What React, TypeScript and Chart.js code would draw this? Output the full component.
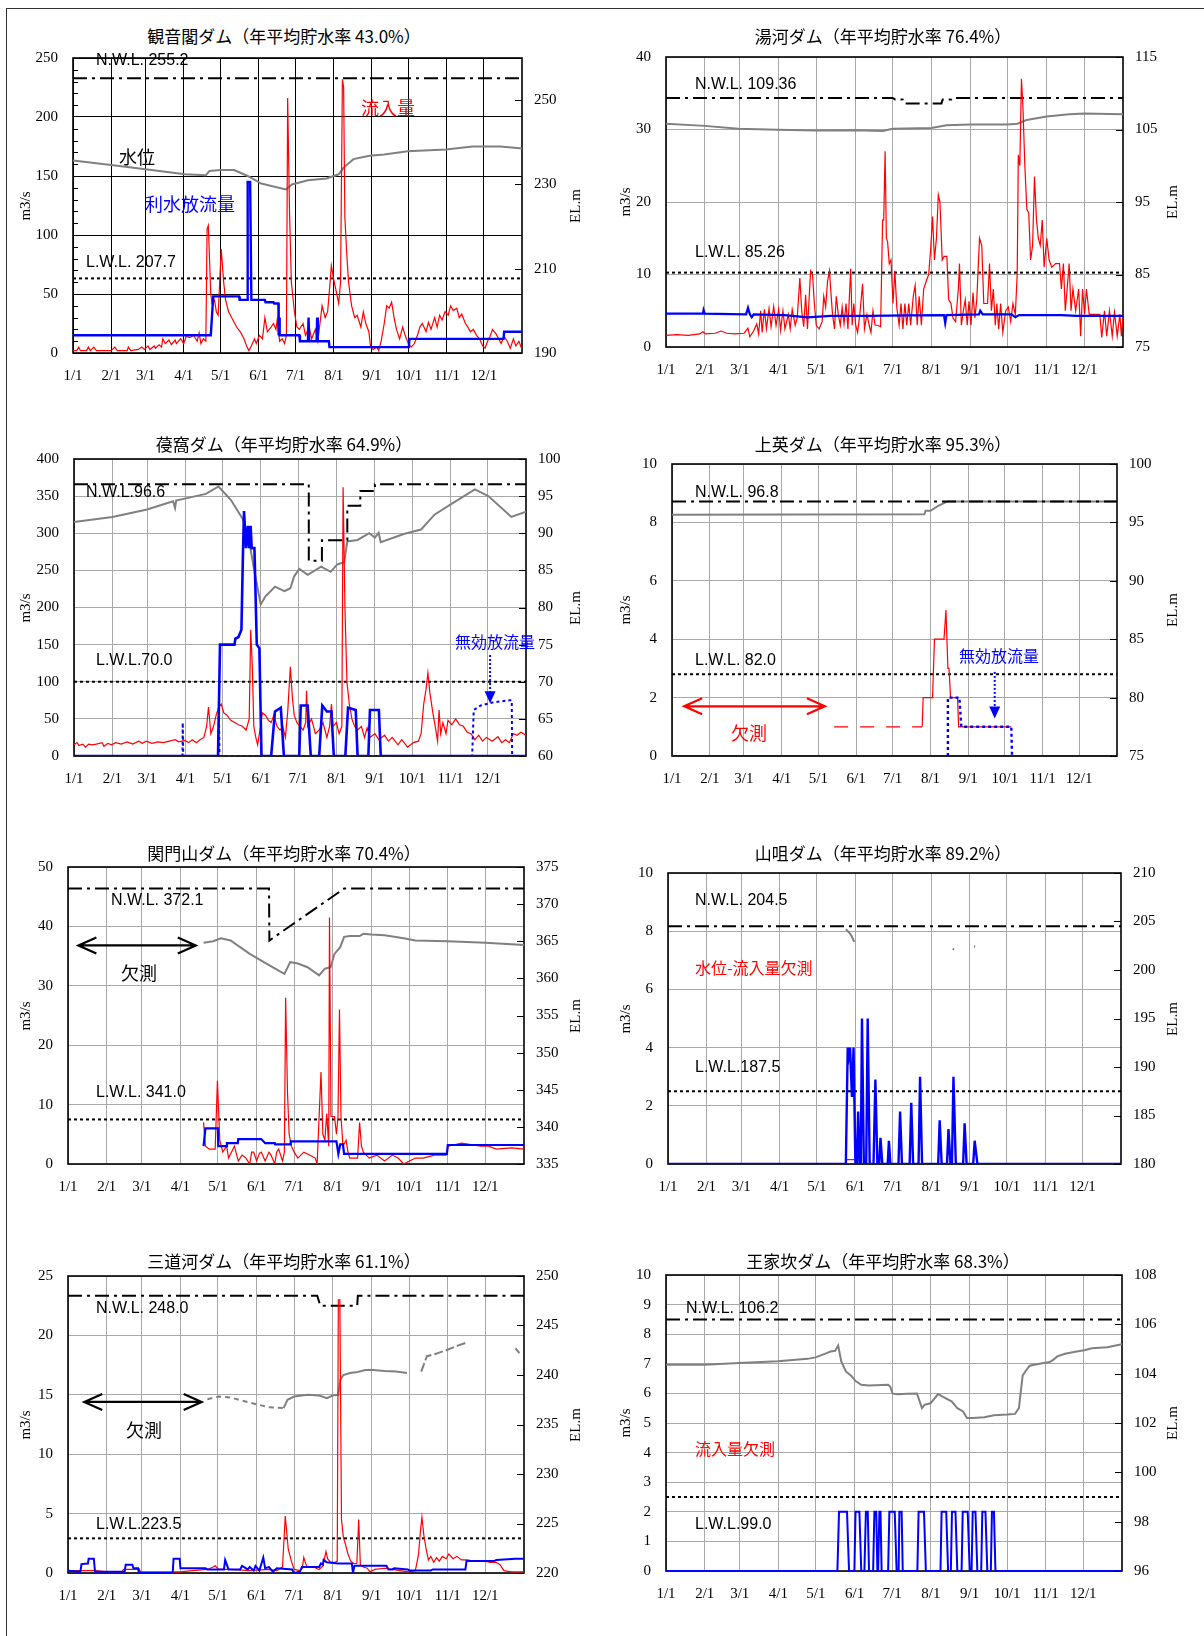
import React, { useEffect, useRef } from 'react';
import { Chart, registerables } from 'chart.js';

Chart.register(...registerables);

type Pt = [number, number | null];

const MONTH_DAYS = [0, 31, 59, 90, 120, 151, 181, 212, 243, 273, 304, 334];
const MONTH_LABELS = ['1/1', '2/1', '3/1', '4/1', '5/1', '6/1', '7/1', '8/1', '9/1', '10/1', '11/1', '12/1'];

// ---------- 観音閣ダム ----------
const kannonInflow: Pt[] = [[0,2],[3,2],[4.7,5],[6,2],[11,2],[12.5,5],[14,2],[17,5],[19,2],[31,2],[34,5],[36,2],[44,2],[45,5],[47,2],[53,3],[56,5],[58,3],[61,6],[62.5,3],[66,6],[67,4],[70,7],[72,5],[73,12],[75,8],[78,11],[80,7],[83,11],[84,8],[87.5,12],[90,8],[92,14],[95,13],[98,15],[101,10],[102.5,17],[104,8],[106,12],[108,10],[109,105],[110,108],[112,50],[113,42],[115,45],[116.5,35],[118,32],[119,55],[120.5,88],[122.5,60],[124,45],[126.5,35],[130,28],[133,22],[136,18],[139,12],[141.5,5],[143,2],[145,6],[147.5,12],[149,8],[151.5,15],[154,12],[156,30],[158,18],[161,22],[163,25],[165,20],[166,28],[168,10],[170,12],[172,8],[173.5,15],[174.5,216],[176,120],[177.5,60],[180,35],[182,22],[184,20],[187,25],[189,15],[192,22],[194,12],[197,20],[199,10],[202.5,40],[205,30],[207,35],[209,60],[210,74],[212,62],[214,52],[216,42],[217.5,60],[219,232],[220,225],[221,115],[222.5,85],[224,60],[226.5,40],[229,30],[231,32],[234,22],[236,35],[238,25],[240.5,18],[242,5],[244,3],[247,5],[248.5,2],[250.5,10],[253,25],[255,40],[257,38],[259,43],[261,30],[263,20],[265.5,12],[268,22],[270,15],[272.5,8],[275,5],[277.5,8],[280,15],[282,22],[284,25],[287,18],[289,26],[291,20],[294,30],[296,22],[298,32],[300,28],[302.5,35],[305,32],[307,40],[309,36],[312,38],[314,30],[316,33],[319,25],[321,22],[323,18],[325.5,20],[328,15],[330.5,12],[333,6],[335,4],[337,10],[339,14],[341,20],[344,16],[346,12],[348,8],[350.5,14],[353,10],[355.5,4],[358,12],[360,6],[362.5,10],[365,3]];
const kannonRelease: Pt[] = [[0,15],[112,15],[114,48],[135,48],[135.5,45],[141.5,45],[142,145],[144,145],[145,45],[156,45],[156.5,43],[163,43],[163.5,42],[167,42],[167.2,15],[167.5,30],[168,15],[184,15],[184.5,10],[191,10],[191.5,30],[192,10],[198,10],[198.5,30],[199,10],[208,10],[208.5,5],[273,5],[273.5,12],[350,12],[350.5,18],[365,18]];
const kannonLevel: Pt[] = [[0,235.7],[31,234.6],[59,233.6],[91,232.4],[108,232.2],[111,233.2],[120,233.4],[131,233.4],[142,232.0],[153,230.2],[173,228.8],[178,230.0],[191,231.0],[206,231.4],[216,232.4],[220,234.0],[228,236.0],[241,236.8],[253,237.1],[272,237.9],[303,238.3],[325,239.0],[347,239.0],[359,238.7],[365,238.5]];
const kannonNWL: Pt[] = [[0,255.2],[365,255.2]];
const kannonLWL: Pt[] = [[0,207.7],[365,207.7]];

// ---------- 湯河ダム ----------
const yuheInflow: Pt[] = [[0,1.6],[8.6,1.7],[17.8,1.6],[27,1.8],[29.5,2.1],[31.6,1.8],[39.3,1.9],[44,2.2],[48.5,1.9],[54.7,1.8],[62.4,1.9],[65.4,2.6],[67,1.4],[70,2.2],[72.5,3.2],[74,1.8],[75.6,5.0],[76.8,2.0],[78.6,5.2],[80.2,2.5],[82.3,5.3],[83.9,2.8],[86,5.6],[87.9,3.0],[90,5.2],[91.5,2.3],[93.4,5.0],[95,2.5],[97.7,4.5],[99.2,2.5],[100.8,5.2],[103.2,3.0],[104.8,4.0],[106.9,9.5],[108.4,5.0],[110,2.8],[111.5,7.2],[113,2.5],[115.5,10.5],[117,10.0],[118.5,6.0],[120,3.0],[122.3,2.5],[124.7,3.5],[126,7.0],[127.5,5.5],[129,9.0],[130.6,10.5],[131.5,8.0],[133,4.5],[134.6,2.5],[136,7.0],[137.6,4.5],[139.2,3.0],[140.7,5.5],[142.2,3.2],[143.8,6.0],[145.3,2.5],[147.5,10.8],[148.7,3.0],[150,6.0],[151.5,3.0],[153,2.0],[154.8,4.5],[157,8.7],[158.5,2.5],[160.5,4.5],[162.3,3.0],[163.7,2.0],[165.3,5.0],[167,3.0],[169,3.0],[171.4,2.8],[173,17.5],[173.9,17.5],[175,27],[176,15.0],[177,14.5],[178.3,11.5],[179.7,12.0],[181.3,6.0],[182.8,10.5],[184.3,5.5],[186.2,3.0],[187.7,6.0],[189.2,2.5],[190.8,6.0],[192.3,3.0],[193.9,6.0],[195.4,3.0],[197.5,7.0],[199,8.5],[200.6,3.0],[202.2,7.0],[204,3.0],[205.8,8.0],[207.7,9.0],[209.8,10.0],[211.4,13.5],[212.9,18.0],[214.4,12.0],[216,15.0],[217.5,21.0],[218.8,20.0],[220.6,12.0],[222.1,12.5],[224.3,12.5],[225.8,6.5],[227.6,6.0],[229.2,4.0],[231.3,3.5],[233.5,8.0],[234.4,11.5],[235.9,3.0],[237.5,5.0],[239,6.5],[240.6,3.0],[242,6.3],[243.6,3.0],[245.2,7.5],[246.7,4.0],[248.2,6.5],[250.4,15.0],[252.2,14.0],[253.8,6.0],[256.8,6.0],[258.4,11.5],[259.9,5.0],[261.4,8.0],[263,3.0],[264.2,6.0],[265.7,2.5],[267.3,6.0],[269,2.0],[271.3,5.0],[273.4,5.5],[275.3,3.5],[277.1,6.0],[279,4.5],[280.5,10.0],[281.4,26.5],[282.6,25.0],[283.9,37.0],[285.1,33.0],[286.6,25.0],[288.2,19.0],[289.7,18.5],[291.2,12.0],[292.8,14.0],[294.3,23.5],[295.9,17.5],[297.4,15.0],[298.9,14.0],[300.5,17.5],[302,11.0],[304.1,15.0],[306,12.0],[308.1,11.0],[311.2,11.5],[314.3,11.5],[315.8,8.0],[317.4,11.5],[318.9,5.0],[320.4,8.0],[322,11.5],[323.5,5.0],[325,8.0],[327.2,5.0],[329.6,8.0],[331.2,1.5],[332.7,8.0],[334.3,4.5],[335.8,8.0],[338,4.5],[346.5,4.5],[348,1.3],[350.2,5.0],[352,1.5],[354.2,5.0],[356.4,1.5],[358.2,4.8],[360.4,1.5],[362.5,4.5],[363.7,1.5],[365,4.5]];
const yuheRelease: Pt[] = [[0,4.6],[29.5,4.6],[30,5.1],[31,4.6],[64,4.5],[65.5,5.4],[67,4.5],[68.5,4.1],[70,4.5],[94.5,4.4],[113,4.1],[131.5,4.3],[162,4.3],[193,4.35],[222,4.4],[223,3.3],[224,4.4],[250,4.5],[251,5.0],[253,4.5],[276,4.5],[279,4.1],[282,4.4],[316,4.4],[328,4.3],[365,4.3]];
const yuheLevel: Pt[] = [[0,105.8],[31,105.5],[58,105.1],[89,104.95],[120,104.86],[151,104.9],[173,104.8],[181,105.1],[212,105.2],[224,105.6],[243,105.7],[273,105.7],[280.5,105.8],[288,106.3],[304,106.8],[322,107.1],[334,107.2],[365,107.1]];
const yuheNWL: Pt[] = [[0,109.36],[181,109.36],[183,109.15],[189,109.15],[190,108.6],[220,108.6],[221,109.15],[228,109.15],[229,109.36],[365,109.36]];
const yuheLWL: Pt[] = [[0,85.26],[365,85.26]];

// ---------- 葠窩ダム ----------
const shenwoInflow: Pt[] = [[0,15],[2.5,18],[4,14],[7,16],[9.3,12],[11.8,16],[14.9,15],[18,16],[22.7,18],[24.2,13],[27.3,17],[30.4,15],[33.5,18],[38.2,16],[42.8,19],[47.5,16],[52.1,20],[55.2,17],[58.3,20],[63,17],[67.7,19],[72.3,18],[77,20],[81.6,22],[84.7,19],[89.4,21],[92.5,18],[95.6,22],[98.7,18],[101.8,22],[104.9,25],[107.1,40],[108.6,66],[110.5,30],[112.7,40],[114.8,55],[116.7,65],[118.9,70],[121,58],[123.5,55],[126.6,48],[129.7,45],[132.8,42],[135.9,40],[139,35],[141.5,50],[142.7,170],[144,120],[145.2,40],[146.8,25],[148.3,15],[150.2,35],[152.1,58],[154.6,55],[157,48],[159.2,45],[161.4,55],[163.9,40],[166.4,35],[168.6,40],[170.7,25],[172.6,60],[174.7,120],[176.3,80],[177.8,55],[180,45],[182.5,40],[185,35],[187.1,45],[187.8,88],[188.7,40],[191.8,50],[194.9,30],[198,35],[201.1,45],[204.2,25],[206.4,40],[207.9,70],[209.2,40],[211.9,45],[214.1,30],[216.3,40],[217.3,362],[218.8,200],[220.4,100],[222.3,70],[224.4,50],[226.6,40],[229,35],[232.1,40],[234.6,25],[236.7,38],[238.9,25],[243,30],[246.1,22],[250.8,28],[253.9,20],[257,25],[261.6,15],[264.7,22],[269.4,12],[274.1,18],[278.1,20],[280.3,30],[282.4,70],[284.3,90],[285.8,112],[287.4,85],[289.6,60],[291.7,40],[293.6,20],[294.8,62],[296.1,30],[297.9,45],[300.4,30],[302,48],[305.1,42],[308.2,50],[311.3,42],[314.4,40],[317.5,32],[320.6,30],[323.7,22],[326.8,28],[329.9,20],[333,25],[337.7,20],[342.3,26],[345.4,18],[348.5,22],[351.6,18],[354.7,30],[357.8,28],[360.9,32],[365,28]];
const shenwoRelease: Pt[] = [[0,0],[116.3,0],[117.9,150],[129.6,150],[130.3,158],[132.7,160],[135.2,170],[136.4,270],[137.3,330],[138.9,280],[140.4,310],[141.4,280],[142.6,310],[143.5,280],[145.7,280],[147.6,150],[149.7,145],[151.4,0],[159.2,0],[162.3,60],[167,65],[169.5,0],[181.9,0],[183.1,68],[188.7,68],[191.2,0],[198,0],[200.5,68],[204.2,60],[207.9,60],[209.8,0],[219.1,0],[221.3,65],[227.5,62],[229,0],[237.7,0],[239,62],[246.2,62],[247.7,0],[365,0]];
const shenwoInvalid: Pt[] = [[0,0],[87.6,0],[87.8,45],[88.2,0],[116.5,0],[117,65],[117.5,0],[321.5,0],[322.8,62],[328.4,68],[337.7,72],[351.6,75],[353.5,75],[353.8,0],[365,0]];
const shenwoLevel: Pt[] = [[0,91.5],[31,92.2],[59,93.2],[80,94.3],[81.6,93.4],[82.5,94.4],[90.3,94.7],[106.5,95.3],[116.7,96.3],[126.6,94.5],[136,92.0],[140.6,89.8],[145.2,85.3],[150.8,80.4],[154.6,81.5],[162.3,82.8],[170,82.2],[174.7,82.6],[177.8,84.2],[181.9,85.2],[188.7,84.4],[199.6,85.5],[207.3,84.8],[212.6,85.8],[218.2,86.1],[220.7,88.9],[229,89.1],[238.4,90.0],[243,89.4],[246,90.05],[247.7,88.8],[266.3,89.9],[280.3,90.5],[291.1,92.5],[304.2,93.9],[323.7,95.9],[334.6,95.0],[353.2,92.2],[365,92.9]];
const shenwoNWL: Pt[] = [[0,96.6],[189.6,96.6],[189.6,86.3],[200.2,86.3],[200.2,89.05],[220.7,89.05],[220.7,93.7],[231.2,93.7],[231.2,95.7],[243,95.7],[243,96.6],[365,96.6]];
const shenwoLWL: Pt[] = [[0,70.0],[365,70.0]];

// ---------- 上英ダム ----------
const shangyingLevel: Pt[] = [[0,95.65],[207,95.7],[208,96.0],[212,96.0],[218,96.4],[226,96.8],[365,96.8]];
const shangyingInflowPartial: Pt[] = [[133,1],[205,1]];
const shangyingInflow: Pt[] = [[205.2,1],[206,2],[213.7,2],[215.3,4],[223.1,4],[224.7,5],[226.3,3],[227.2,3],[228.5,2],[234.2,2],[235.1,1],[278.3,1]];
const shangyingRelease: Pt[] = [[0,0],[365,0]];
const shangyingInvalid: Pt[] = [[226.3,0],[226.3,2],[235.7,2],[237.3,1],[278.3,1],[278.9,0]];
const shangyingNWL: Pt[] = [[0,96.8],[365,96.8]];
const shangyingLWL: Pt[] = [[0,82.0],[365,82.0]];

// ---------- 関門山ダム ----------
const guanmenInflow: Pt[] = [[108.5,7],[110,3],[113.1,2.5],[117.8,2.5],[119.6,14],[121.5,4],[123.9,2],[127,3],[128.5,1],[133.2,3],[136.3,0.5],[139.3,1.5],[142.4,1],[145.5,0],[147,2],[148.6,2],[151,0.5],[153.2,1.8],[154.7,2],[157.8,0.5],[160.9,2],[162.5,1.5],[165.5,0],[167,2],[168.6,2.5],[171.7,0.5],[173.2,2],[174.2,28],[175.7,12],[177,5],[178.8,3],[181,2],[184,1],[188.7,2],[193.3,1.5],[197.9,1],[199.4,0],[202.5,15.5],[204,5],[205.6,4],[207.1,8.5],[208.7,3],[209.3,41.5],[210.5,8],[213.3,8],[214.9,5],[216.1,8],[217.3,26],[218.5,8],[220.1,3],[222.6,4],[224.1,2],[225.6,1],[231.8,1],[233.4,7],[234.9,3],[236.4,2],[241.1,1],[247.2,1.5],[253.4,0.5],[259.6,1.5],[264.2,1],[268.8,0],[273.4,0.5],[278,1],[284.2,1],[293.5,1.5],[302.7,1.5],[304.3,3],[315,3.5],[330.5,3],[336.6,3],[342.8,2.5],[355.1,2.7],[365,2.5]];
const guanmenRelease: Pt[] = [[108.5,3],[110,6],[120,6],[120.3,3],[126.8,3],[127.2,3.5],[135.9,3.5],[136.3,4.2],[154.7,4.2],[157.8,3.5],[165.5,3.5],[165.8,3.3],[177.9,3.3],[178.3,3.8],[214.9,3.8],[216.4,1.7],[217.9,3.3],[220.1,3.3],[221,1.7],[303.3,1.7],[304,3.2],[365,3.2]];
const guanmenLevel: Pt[] = [[108.5,364.8],[116.2,365.0],[122.4,365.4],[130.1,365.1],[145.5,363.3],[160.9,361.8],[173.2,360.6],[177.9,362.2],[184,362.0],[191.7,361.5],[201,360.4],[205.6,361.3],[210.2,361.5],[213.3,363.3],[217.9,364.2],[221,365.6],[225.6,365.7],[233.4,365.7],[236.4,366.0],[242.6,365.9],[253.4,365.8],[268.8,365.4],[278,365.1],[303.6,365.0],[334.2,364.8],[365,364.5]];
const guanmenNWL: Pt[] = [[0,372.1],[160.9,372.1],[161.2,365.1],[221,372.1],[365,372.1]];
const guanmenLWL: Pt[] = [[0,341.0],[365,341.0]];

// ---------- 山咀ダム ----------
const shanzuiRelease: Pt[] = [[0,0],[143.3,0],[144.8,4],[145.7,3.7],[146.7,4],[148.2,2.3],[149.5,4],[151,0],[152.2,0],[153.2,1.8],[154.4,0],[155.3,0],[156.3,5],[157.8,0],[159.7,0],[160.9,5],[162.5,0],[165.6,0],[167.1,2.9],[168.7,0],[170.2,0],[171.2,0.9],[172.7,0],[177,0],[178,0.8],[179.2,0],[185.7,0],[187,1.8],[188.5,0],[194.7,0],[196,2.1],[197.5,0],[201.9,0],[203.1,3],[204.7,0],[217.7,0],[218.9,1.5],[220.5,0],[224.8,0],[226,1.2],[227.6,0],[228.8,0],[230,3],[231.9,0],[237.8,0],[239,1.4],[240.6,0],[245.9,0],[247.1,0.8],[249.3,0],[365,0]];
const shanzuiInflow: Pt[] = [[143.3,0.15],[150.1,0.15]];
const shanzuiLevel: Pt[] = [[143.3,204.2],[146.4,203.8],[147.9,203.5],[150.1,202.9],[150.2,null],[229.5,202.2],[230.5,202.1],[231,null],[246.5,202.45],[247.5,202.4]];
const shanzuiNWL: Pt[] = [[0,204.5],[365,204.5]];
const shanzuiLWL: Pt[] = [[0,187.5],[365,187.5]];

// ---------- 三道河ダム ----------
const sandaoInflow: Pt[] = [[0,0.2],[22.2,0.2],[31.4,0.1],[43.2,0.1],[44.4,0.3],[56.1,0.3],[58.6,0.1],[90,0.1],[99.3,0.2],[111.6,0.3],[116.2,0.5],[117.8,0.6],[120.8,0.3],[130.1,0.3],[145.5,0.2],[160.9,0.3],[167.1,0.2],[171.7,0.5],[173.9,4.8],[176.3,2.0],[178.8,1.0],[181,0.3],[185.6,0.2],[187.5,0.4],[188.7,1.3],[190.2,0.8],[191.7,0.5],[196.4,0.5],[201,0.3],[204,0.6],[206.5,1.8],[207.8,1.2],[210.2,0.9],[213.9,0.9],[215.5,1.0],[216.4,23],[217.6,23],[218.9,4.5],[220.4,3.0],[221.9,2.5],[224.1,1.6],[226.3,1.0],[228.7,0.8],[231.2,0.8],[232.7,4.5],[234,0.7],[236.4,0.5],[239.5,0.4],[241.7,0.1],[245.7,0.3],[253.4,0.4],[259.6,0.3],[265.7,0.2],[272.5,0.1],[278,0.2],[280.5,1.5],[282.1,3.5],[283.3,4.7],[284.8,3.2],[286.7,2.0],[288.5,1.1],[290.4,1.4],[292.8,0.9],[295,1.3],[297.2,1.0],[299.6,1.4],[302.7,1.2],[304.8,1.6],[308.3,1.2],[311.3,1.4],[315,1.1],[319.7,1.1],[324.3,1.0],[333.5,1.0],[338.2,0.9],[342.8,0.9],[345.8,0.7],[348.9,0.2],[355.1,0.1],[365,0.1]];
const sandaoRelease: Pt[] = [[0,0.2],[9.9,0.1],[10.8,0.75],[16,0.8],[16.5,1.2],[20.7,1.2],[21.6,0.1],[45.3,0.1],[46.2,0.7],[51.5,0.7],[52.4,0.4],[56.1,0.4],[56.7,0],[83.8,0],[84.5,1.2],[89.4,1.2],[90,0.4],[110,0.4],[111.6,0.3],[124.8,0.3],[125.8,1.1],[128.5,0.3],[137.8,0.3],[139.3,0.6],[143.9,0.3],[145.5,0.5],[148.6,0.2],[150.1,0.6],[153.2,0.2],[156.3,1.3],[157.8,0.4],[160.9,0.5],[164,0.1],[167.1,0.4],[179.4,0.3],[181,0],[185.6,0.1],[187.2,0.5],[201,0.5],[202.5,0.8],[204,0.7],[204.6,1.1],[207.1,0.9],[216.4,0.8],[227.2,0.8],[228.1,0],[229.3,0.6],[254.9,0.6],[256.5,0.3],[259.6,0.3],[261.1,0.4],[271.9,0.3],[273.4,0.2],[290.4,0.2],[291.9,0.3],[318.1,0.3],[319,1.0],[341.2,1.0],[342.8,1.1],[358.2,1.2],[365,1.2]];
const sandaoLevelA: Pt[] = [[111.6,237.56],[120.8,237.83],[130.1,237.73],[145.5,237.2],[160.9,236.75],[172.6,236.65]];
const sandaoLevelB: Pt[] = [[172.6,236.65],[175.7,237.5],[181,237.83],[191.7,238.0],[201,237.93],[207.2,237.66],[211.8,237.93],[216.4,238.0],[217.9,239.5],[220.4,240.0],[225.6,240.2],[231.8,240.3],[238,240.5],[244.1,240.5],[253.4,240.4],[262.6,240.35],[271.3,240.2]];
const sandaoLevelC: Pt[] = [[282.7,240.35],[287.3,241.9],[293.5,242.1],[302.7,242.5],[312,242.97],[319.7,243.3],[320,null],[358.2,242.7],[361.3,242.2]];
const sandaoNWL: Pt[] = [[0,248],[199.5,248],[202,247],[231.5,247],[232,248],[365,248]];
const sandaoLWL: Pt[] = [[0,223.5],[365,223.5]];

// ---------- 王家坎ダム ----------
const wangRelease: Pt[] = [[0,0],[137.2,0],[138.5,2],[144.9,2],[146.5,0],[150.8,0],[151.7,2],[154.8,2],[156.3,0],[158.8,0],[160,2],[161.5,2],[162.5,0],[165.8,0],[166.8,2],[168.3,2],[169.2,0],[169.8,0],[170.8,2],[171.7,2],[172.6,0],[177.8,0],[178.8,2],[183.1,2],[184.6,0],[186.2,0],[186.8,2],[188.6,2],[189.5,0],[201.2,0],[202.2,2],[206.5,2],[208,0],[219.7,0],[220.6,2],[224.3,2],[225.8,0],[228,0],[228.9,2],[231.7,2],[233.2,0],[236.6,0],[237.5,2],[241.5,2],[243.1,0],[244.6,0],[245.5,2],[247.7,2],[249.2,0],[252.3,0],[253.2,2],[255.7,2],[257.2,0],[260,0],[260.9,2],[262.5,2],[263.7,0],[365,0]];
const wangLevel: Pt[] = [[0,104.36],[30.8,104.36],[58.5,104.43],[89.5,104.5],[113.2,104.6],[119.7,104.66],[128.6,104.83],[131.7,104.9],[135.4,104.93],[137.8,105.14],[140.3,104.5],[144,104.09],[148.6,103.9],[151.7,103.7],[156.3,103.55],[162.5,103.52],[177.8,103.55],[179.4,103.48],[181.5,103.19],[185.5,103.17],[193.2,103.19],[200.9,103.2],[204.9,102.6],[207.1,102.74],[211.7,102.8],[217.8,103.17],[224,103.0],[228.6,102.88],[233.2,102.6],[237.8,102.47],[240.9,102.2],[245.5,102.2],[254.8,102.23],[262.5,102.31],[273.2,102.34],[279.4,102.37],[282.5,102.61],[285.5,103.93],[288.6,104.16],[291.1,104.32],[297.8,104.39],[307.1,104.47],[310.2,104.57],[313.2,104.7],[319.4,104.81],[328.6,104.9],[334.8,104.95],[340.9,105.03],[353.2,105.07],[365,105.19]];
const wangNWL: Pt[] = [[0,106.2],[365,106.2]];
const wangLWL: Pt[] = [[0,99.0],[365,99.0]];

// ---------- axis tick labels ----------
const kannonLeftTicks = [0, 50, 100, 150, 200, 250];
const kannonLeftMinor = [10, 20, 30, 40, 60, 70, 80, 90, 110, 120, 130, 140, 160, 170, 180, 190, 210, 220, 230, 240];
const kannonRightTicks = [190, 210, 230, 250];
const yuheLeftTicks = [0, 10, 20, 30, 40];
const yuheRightTicks = [75, 85, 95, 105, 115];
const shenwoLeftTicks = [0, 50, 100, 150, 200, 250, 300, 350, 400];
const shenwoRightTicks = [60, 65, 70, 75, 80, 85, 90, 95, 100];
const shangyingLeftTicks = [0, 2, 4, 6, 8, 10];
const shangyingRightTicks = [75, 80, 85, 90, 95, 100];
const guanmenLeftTicks = [0, 10, 20, 30, 40, 50];
const guanmenRightTicks = [335, 340, 345, 350, 355, 360, 365, 370, 375];
const shanzuiLeftTicks = [0, 2, 4, 6, 8, 10];
const shanzuiRightTicks = [180, 185, 190, 195, 200, 205, 210];
const sandaoLeftTicks = [0, 5, 10, 15, 20, 25];
const sandaoRightTicks = [220, 225, 230, 235, 240, 245, 250];
const wangLeftTicks = [0, 1, 2, 3, 4, 5, 6, 7, 8, 9, 10];
const wangRightTicks = [96, 98, 100, 102, 104, 106, 108];

// ---------- styles ----------
const RED = '#ff0000';
const BLUE = '#0000ff';
const GRAY = '#808080';
const BLACK = '#000000';
const GRID_GRAY = '#a8a8a8';
const NWL_DASH = [14, 5, 3, 5];
const LWL_DASH = [3, 3];
const FONT_SERIF = '"Liberation Serif", "Times New Roman", serif';
const FONT_SANS = '"Liberation Sans", Arial, sans-serif';
const FONT_JP = '"Noto Sans CJK JP", "Noto Sans CJK SC", sans-serif';

type Series = { data: Pt[]; axis: 'y' | 'y1'; color: string; width: number; dash?: number[] };
type Arrow = { kind: 'double' | 'down'; x: number; x2?: number; y: number; y2?: number; color: string };
type Note = { text: string; x: number; y: number; size: number; color: string; family: string };
type AxisSpec = { min: number; max: number; ticks: number[]; minor?: number[] };
type PanelSpec = {
  title: string;
  titleX: number;
  titleY: number;
  rect: [number, number, number, number];
  left: AxisSpec;
  right: AxisSpec;
  grid: string;
  series: Series[];
  arrows: Arrow[];
  notes: Note[];
};

const nwl = (d: Pt[]): Series => ({ data: d, axis: 'y1', color: BLACK, width: 2, dash: NWL_DASH });
const lwl = (d: Pt[]): Series => ({ data: d, axis: 'y1', color: BLACK, width: 2, dash: LWL_DASH });
const lvl = (d: Pt[], dash?: number[]): Series => ({ data: d, axis: 'y1', color: GRAY, width: 2, dash });
const inflow = (d: Pt[], dash?: number[]): Series => ({ data: d, axis: 'y', color: RED, width: 1.2, dash });
const release = (d: Pt[], dash?: number[], w = 2.2): Series => ({ data: d, axis: 'y', color: BLUE, width: w, dash });
const txt = (text: string, x: number, y: number, size = 16, color = BLACK, family = FONT_SANS): Note => ({ text, x, y, size, color, family });

const PANELS: PanelSpec[] = [
  {
    title: '観音閣ダム（年平均貯水率 43.0%）', titleX: 284, titleY: 35,
    rect: [73, 58, 522, 353],
    left: { min: 0, max: 250, ticks: kannonLeftTicks, minor: kannonLeftMinor },
    right: { min: 190, max: 260, ticks: kannonRightTicks },
    grid: BLACK,
    series: [release(kannonRelease, undefined, 2.4), inflow(kannonInflow), nwl(kannonNWL), lwl(kannonLWL), lvl(kannonLevel)],
    arrows: [],
    notes: [
      txt('N.W.L. 255.2', 96, 60), txt('L.W.L. 207.7', 86, 262),
      txt('水位', 119, 156, 18, BLACK, FONT_JP), txt('利水放流量', 145, 203, 18, BLUE, FONT_JP), txt('流入量', 361, 107, 18, RED, FONT_JP),
    ],
  },
  {
    title: '湯河ダム（年平均貯水率 76.4%）', titleX: 883, titleY: 35,
    rect: [666, 57, 1123, 347],
    left: { min: 0, max: 40, ticks: yuheLeftTicks },
    right: { min: 75, max: 115, ticks: yuheRightTicks },
    grid: GRID_GRAY,
    series: [release(yuheRelease), inflow(yuheInflow), nwl(yuheNWL), lwl(yuheLWL), lvl(yuheLevel)],
    arrows: [],
    notes: [txt('N.W.L. 109.36', 695, 84), txt('L.W.L. 85.26', 695, 252)],
  },
  {
    title: '葠窩ダム（年平均貯水率 64.9%）', titleX: 284, titleY: 443,
    rect: [74, 459, 526, 756],
    left: { min: 0, max: 400, ticks: shenwoLeftTicks },
    right: { min: 60, max: 100, ticks: shenwoRightTicks },
    grid: GRID_GRAY,
    series: [release(shenwoRelease, undefined, 2.6), release(shenwoInvalid, [3, 3], 2), inflow(shenwoInflow), nwl(shenwoNWL), lwl(shenwoLWL), lvl(shenwoLevel)],
    arrows: [{ kind: 'down', x: 336, y: 136, y2: 71, color: BLUE }],
    notes: [txt('N.W.L.96.6', 86, 492), txt('L.W.L.70.0', 96, 660), txt('無効放流量', 455, 641, 16, BLUE, FONT_JP)],
  },
  {
    title: '上英ダム（年平均貯水率 95.3%）', titleX: 883, titleY: 443,
    rect: [672, 464, 1117, 756],
    left: { min: 0, max: 10, ticks: shangyingLeftTicks },
    right: { min: 75, max: 100, ticks: shangyingRightTicks },
    grid: GRID_GRAY,
    series: [release(shangyingRelease), release(shangyingInvalid, [3, 3], 2.4), inflow(shangyingInflow), inflow(shangyingInflowPartial, [14, 12]), nwl(shangyingNWL), lwl(shangyingLWL), lvl(shangyingLevel)],
    arrows: [
      { kind: 'double', x: 10, x2: 125.4, y: 1.7, color: RED },
      { kind: 'down', x: 264.7, y: 2.88, y2: 1.28, color: BLUE },
    ],
    notes: [txt('N.W.L. 96.8', 695, 492), txt('L.W.L. 82.0', 695, 660), txt('無効放流量', 959, 655, 16, BLUE, FONT_JP), txt('欠測', 731, 732, 18, RED, FONT_JP)],
  },
  {
    title: '関門山ダム（年平均貯水率 70.4%）', titleX: 284, titleY: 852,
    rect: [68, 867, 524, 1164],
    left: { min: 0, max: 50, ticks: guanmenLeftTicks },
    right: { min: 335, max: 375, ticks: guanmenRightTicks },
    grid: GRID_GRAY,
    series: [release(guanmenRelease), inflow(guanmenInflow), nwl(guanmenNWL), lwl(guanmenLWL), lvl(guanmenLevel)],
    arrows: [{ kind: 'double', x: 8.3, x2: 102.3, y: 36.8, color: BLACK }],
    notes: [txt('N.W.L. 372.1', 111, 900), txt('L.W.L. 341.0', 96, 1092), txt('欠測', 121, 972, 18, BLACK, FONT_JP)],
  },
  {
    title: '山咀ダム（年平均貯水率 89.2%）', titleX: 883, titleY: 852,
    rect: [668, 873, 1121, 1164],
    left: { min: 0, max: 10, ticks: shanzuiLeftTicks },
    right: { min: 180, max: 210, ticks: shanzuiRightTicks },
    grid: GRID_GRAY,
    series: [release(shanzuiRelease, undefined, 2.4), inflow(shanzuiInflow), nwl(shanzuiNWL), lwl(shanzuiLWL), lvl(shanzuiLevel)],
    arrows: [],
    notes: [txt('N.W.L. 204.5', 695, 900), txt('L.W.L.187.5', 695, 1067), txt('水位-流入量欠測', 695, 967, 16, RED, FONT_JP)],
  },
  {
    title: '三道河ダム（年平均貯水率 61.1%）', titleX: 284, titleY: 1260,
    rect: [68, 1276, 524, 1573],
    left: { min: 0, max: 25, ticks: sandaoLeftTicks },
    right: { min: 220, max: 250, ticks: sandaoRightTicks },
    grid: GRID_GRAY,
    series: [release(sandaoRelease, undefined, 2), inflow(sandaoInflow, undefined), nwl(sandaoNWL), lwl(sandaoLWL), lvl(sandaoLevelA, [5, 4]), lvl(sandaoLevelB), lvl(sandaoLevelC, [9, 3])],
    arrows: [{ kind: 'double', x: 13, x2: 107, y: 14.4, color: BLACK }],
    notes: [txt('N.W.L. 248.0', 96, 1308), txt('L.W.L.223.5', 96, 1524), txt('欠測', 126, 1429, 18, BLACK, FONT_JP)],
  },
  {
    title: '王家坎ダム（年平均貯水率 68.3%）', titleX: 883, titleY: 1260,
    rect: [666, 1275, 1122, 1571],
    left: { min: 0, max: 10, ticks: wangLeftTicks },
    right: { min: 96, max: 108, ticks: wangRightTicks },
    grid: GRID_GRAY,
    series: [release(wangRelease, undefined, 2), nwl(wangNWL), lwl(wangLWL), lvl(wangLevel)],
    arrows: [],
    notes: [txt('N.W.L. 106.2', 686, 1308), txt('L.W.L.99.0', 695, 1524), txt('流入量欠測', 695, 1448, 16, RED, FONT_JP)],
  },
];

const PAD_X = 70;
const PAD_TOP = 10;
const PAD_BOTTOM = 40;

function Panel({ spec }: { spec: PanelSpec }) {
  const ref = useRef<HTMLCanvasElement>(null);
  const [L, T, R, B] = spec.rect;
  const W = R - L + PAD_X * 2;
  const H = B - T + PAD_TOP + PAD_BOTTOM;

  useEffect(() => {
    const canvas = ref.current;
    if (!canvas) return;
    const tickFont = { family: FONT_SERIF, size: 15 };

    const framePlugin = {
      id: 'damFrame',
      beforeDatasetsDraw(chart: any) {
        const { ctx, chartArea: a } = chart;
        const yl = chart.scales.y;
        const yr = chart.scales.y1;
        ctx.save();
        ctx.strokeStyle = BLACK;
        ctx.lineWidth = 1;
        ctx.beginPath();
        for (const v of spec.right.ticks) {
          const p = Math.round(yr.getPixelForValue(v)) + 0.5;
          ctx.moveTo(a.right - 7, p);
          ctx.lineTo(a.right, p);
        }
        for (const v of spec.left.minor ?? []) {
          const p = Math.round(yl.getPixelForValue(v)) + 0.5;
          ctx.moveTo(a.left, p);
          ctx.lineTo(a.left + 5, p);
        }
        ctx.stroke();
        ctx.lineWidth = 1.6;
        ctx.strokeRect(a.left, a.top, a.right - a.left, a.bottom - a.top);
        ctx.restore();
      },
      afterDatasetsDraw(chart: any) {
        const { ctx } = chart;
        const xs = chart.scales.x;
        const yl = chart.scales.y;
        ctx.save();
        for (const ar of spec.arrows) {
          ctx.strokeStyle = ar.color;
          ctx.fillStyle = ar.color;
          const x1 = xs.getPixelForValue(ar.x);
          const y1 = yl.getPixelForValue(ar.y);
          if (ar.kind === 'double') {
            const x2 = xs.getPixelForValue(ar.x2 ?? ar.x);
            ctx.lineWidth = 2.2;
            ctx.setLineDash([]);
            ctx.beginPath();
            ctx.moveTo(x1, y1);
            ctx.lineTo(x2, y1);
            ctx.moveTo(x1 + 18, y1 - 8);
            ctx.lineTo(x1, y1);
            ctx.lineTo(x1 + 18, y1 + 8);
            ctx.moveTo(x2 - 18, y1 - 8);
            ctx.lineTo(x2, y1);
            ctx.lineTo(x2 - 18, y1 + 8);
            ctx.stroke();
          } else {
            const y2 = yl.getPixelForValue(ar.y2 ?? ar.y);
            ctx.lineWidth = 2;
            ctx.setLineDash([2, 2]);
            ctx.beginPath();
            ctx.moveTo(x1, y1);
            ctx.lineTo(x1, y2 - 10);
            ctx.stroke();
            ctx.setLineDash([]);
            ctx.beginPath();
            ctx.moveTo(x1 - 5.5, y2 - 12);
            ctx.lineTo(x1 + 5.5, y2 - 12);
            ctx.lineTo(x1, y2);
            ctx.closePath();
            ctx.fill();
          }
        }
        ctx.restore();
      },
    };

    const noPad = (s: any) => {
      s.paddingTop = 0;
      s.paddingBottom = 0;
      s.paddingLeft = 0;
      s.paddingRight = 0;
    };

    const chart = new Chart(canvas, {
      type: 'line',
      data: {
        datasets: spec.series.map((s) => ({
          data: s.data.map(([x, y]) => ({ x, y })),
          yAxisID: s.axis,
          borderColor: s.color,
          backgroundColor: s.color,
          borderWidth: s.width,
          borderDash: s.dash ?? [],
          pointRadius: 0,
          pointHoverRadius: 0,
          fill: false,
          tension: 0,
          spanGaps: false,
        })),
      },
      options: {
        animation: false,
        responsive: false,
        maintainAspectRatio: false,
        events: [],
        layout: { padding: { top: PAD_TOP, left: 0, right: 0, bottom: 0 } },
        plugins: { legend: { display: false }, tooltip: { enabled: false }, title: { display: false } },
        scales: {
          x: {
            type: 'linear',
            min: 0,
            max: 365,
            afterBuildTicks: (s: any) => { s.ticks = MONTH_DAYS.map((v) => ({ value: v })); },
            afterFit: (s: any) => { s.height = PAD_BOTTOM; noPad(s); },
            grid: { color: spec.grid, lineWidth: 1, drawTicks: false },
            border: { display: false },
            ticks: {
              autoSkip: false,
              maxRotation: 0,
              padding: 14,
              color: BLACK,
              font: tickFont,
              callback: (v: any) => {
                const i = MONTH_DAYS.indexOf(Number(v));
                return i >= 0 ? MONTH_LABELS[i] : '';
              },
            },
          },
          y: {
            type: 'linear',
            position: 'left',
            min: spec.left.min,
            max: spec.left.max,
            afterBuildTicks: (s: any) => { s.ticks = spec.left.ticks.map((v) => ({ value: v })); },
            afterFit: (s: any) => { s.width = PAD_X; noPad(s); },
            grid: { color: spec.grid, lineWidth: 1, drawTicks: false },
            border: { display: false },
            ticks: { padding: 15, color: BLACK, font: tickFont, callback: (v: any) => String(v) },
          },
          y1: {
            type: 'linear',
            position: 'right',
            min: spec.right.min,
            max: spec.right.max,
            afterBuildTicks: (s: any) => { s.ticks = spec.right.ticks.map((v) => ({ value: v })); },
            afterFit: (s: any) => { s.width = PAD_X; noPad(s); },
            grid: { display: false, drawTicks: false },
            border: { display: false },
            ticks: { padding: 12, color: BLACK, font: tickFont, callback: (v: any) => String(v) },
          },
        },
      },
      plugins: [framePlugin],
    } as any);
    return () => chart.destroy();
  }, [spec]);

  return (
    <canvas
      ref={ref}
      width={W}
      height={H}
      style={{ position: 'absolute', left: L - PAD_X, top: T - PAD_TOP, width: W, height: H }}
    />
  );
}

export default function App() {
  return (
    <div style={{ position: 'absolute', left: 0, top: 0, width: 1204, height: 1636, background: '#fff', overflow: 'hidden' }}>
      <div style={{ position: 'absolute', left: 6, top: 8, width: 1210, height: 1640, borderLeft: '1.5px solid #333', borderTop: '1.5px solid #333' }} />
      {PANELS.map((p, i) => (
        <Panel key={i} spec={p} />
      ))}
      {PANELS.map((p, i) => {
        const [L, T, , B] = p.rect;
        const mid = (T + B) / 2;
        const leftAxisX = L < 300 ? 25 : 625;
        const rightAxisX = L < 300 ? 575 : 1172;
        return (
          <React.Fragment key={'t' + i}>
            <div style={{ position: 'absolute', left: p.titleX, top: p.titleY, transform: 'translate(-50%, -50%)', whiteSpace: 'nowrap', fontFamily: FONT_JP, fontSize: 17, color: BLACK, lineHeight: 1 }}>
              {p.title}
            </div>
            <div style={{ position: 'absolute', left: leftAxisX, top: mid, transform: 'translate(-50%, -50%) rotate(-90deg)', whiteSpace: 'nowrap', fontFamily: FONT_SERIF, fontSize: 15, color: BLACK, lineHeight: 1 }}>
              m3/s
            </div>
            <div style={{ position: 'absolute', left: rightAxisX, top: mid, transform: 'translate(-50%, -50%) rotate(-90deg)', whiteSpace: 'nowrap', fontFamily: FONT_SERIF, fontSize: 15, color: BLACK, lineHeight: 1 }}>
              EL.m
            </div>
            {p.notes.map((n, j) => (
              <div key={j} style={{ position: 'absolute', left: n.x, top: n.y, transform: 'translateY(-50%)', whiteSpace: 'nowrap', fontFamily: n.family, fontSize: n.size, color: n.color, lineHeight: 1 }}>
                {n.text}
              </div>
            ))}
          </React.Fragment>
        );
      })}
    </div>
  );
}
